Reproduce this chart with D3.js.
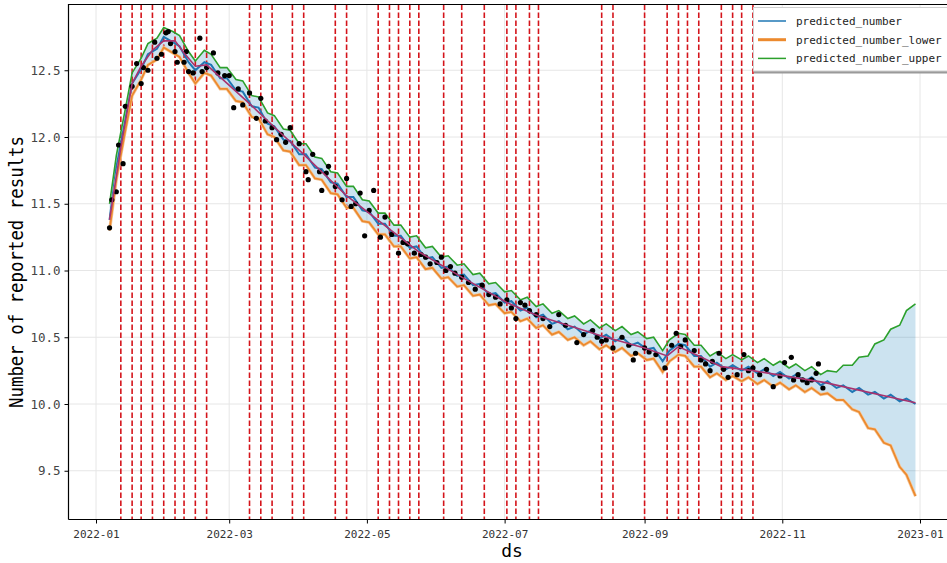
<!DOCTYPE html>
<html><head><meta charset="utf-8">
<script src="https://cdn.jsdelivr.net/npm/d3@7"></script>
<style>body{margin:0;background:#fff;}svg{display:block}</style>
</head><body>
<svg id="c" width="947" height="563"></svg>
<script>
// ---- data ----
const seriesNames = ["predicted_number", "predicted_number_lower", "predicted_number_upper"];
const xTickLabels = ["2022-01", "2022-03", "2022-05", "2022-07", "2022-09", "2022-11", "2023-01"];
const yTicks = [9.5, 10.0, 10.5, 11.0, 11.5, 12.0, 12.5];
// forecast rows: every Friday and Monday from 2022-01-07 to 2022-12-30
const forecastStart = "2022-01-07", forecastEnd = "2022-12-30";
const yhat = [11.38,11.77,12.13,12.40,12.51,12.62,12.66,12.75,12.71,12.68,12.56,12.50,12.56,12.54,12.44,12.44,12.35,12.34,12.23,12.22,
  12.10,12.08,11.98,11.97,11.87,11.87,11.77,11.76,11.66,11.65,11.55,11.55,11.45,11.44,11.35,11.35,11.26,11.26,11.17,11.18,
  11.09,11.10,11.02,11.03,10.96,10.97,10.89,10.90,10.82,10.83,10.76,10.77,10.70,10.72,10.65,10.67,10.60,10.62,10.56,10.58,
  10.52,10.55,10.49,10.52,10.47,10.50,10.44,10.46,10.41,10.42,10.32,10.40,10.45,10.44,10.36,10.36,10.28,10.31,10.26,10.29,
  10.25,10.28,10.23,10.26,10.21,10.24,10.19,10.22,10.17,10.20,10.14,10.17,10.12,10.14,10.09,10.12,10.07,10.09,10.04,10.07,
  10.02,10.04,10.00];
const upper = [11.50,11.86,12.21,12.48,12.59,12.70,12.74,12.82,12.79,12.76,12.64,12.57,12.65,12.62,12.52,12.52,12.43,12.42,12.31,12.30,
  12.18,12.16,12.06,12.05,11.95,11.95,11.85,11.84,11.74,11.73,11.63,11.63,11.53,11.52,11.43,11.43,11.34,11.34,11.25,11.26,
  11.17,11.18,11.10,11.11,11.04,11.05,10.97,10.98,10.90,10.91,10.84,10.85,10.78,10.80,10.73,10.75,10.68,10.70,10.64,10.66,
  10.60,10.63,10.57,10.60,10.55,10.58,10.52,10.54,10.49,10.50,10.40,10.48,10.53,10.52,10.44,10.44,10.36,10.39,10.34,10.37,
  10.33,10.36,10.31,10.34,10.29,10.32,10.27,10.30,10.25,10.28,10.22,10.25,10.24,10.29,10.29,10.35,10.36,10.45,10.48,10.56,
  10.59,10.70,10.75];
const lower = [11.30,11.68,12.05,12.31,12.43,12.54,12.58,12.67,12.63,12.60,12.48,12.40,12.48,12.46,12.36,12.36,12.27,12.26,12.15,12.14,
  12.02,12.00,11.90,11.89,11.79,11.79,11.69,11.68,11.58,11.57,11.47,11.47,11.37,11.36,11.27,11.27,11.18,11.18,11.09,11.10,
  11.01,11.02,10.94,10.95,10.88,10.89,10.81,10.82,10.74,10.75,10.68,10.69,10.62,10.64,10.57,10.59,10.52,10.54,10.48,10.50,
  10.44,10.47,10.41,10.44,10.39,10.42,10.36,10.38,10.33,10.34,10.24,10.32,10.37,10.36,10.28,10.28,10.20,10.23,10.18,10.21,
  10.17,10.20,10.15,10.18,10.13,10.16,10.11,10.14,10.09,10.12,10.07,10.08,10.03,10.03,9.96,9.94,9.82,9.81,9.71,9.69,
  9.53,9.47,9.31];
const trendDates = ["2022-01-07","2022-01-12","2022-01-17","2022-01-21","2022-01-26","2022-01-31","2022-02-05","2022-02-09","2022-02-14","2022-02-19",
  "2022-03-10","2022-03-20","2022-04-03","2022-04-22","2022-05-11","2022-05-24","2022-06-12","2022-07-02","2022-07-16","2022-08-13",
  "2022-09-01","2022-09-11","2022-09-16","2022-09-25","2022-10-05","2022-10-19","2022-11-20","2022-12-30"];
const trendValues = [11.38,11.92,12.40,12.53,12.65,12.72,12.72,12.63,12.53,12.54,
  12.25,12.09,11.87,11.56,11.31,11.14,10.95,10.76,10.66,10.51,
  10.42,10.36,10.43,10.36,10.28,10.25,10.16,10.01];
const changepoints = ["2022-01-12","2022-01-17","2022-01-21","2022-01-26","2022-01-31","2022-02-05","2022-02-09","2022-02-14","2022-02-19",
  "2022-03-10","2022-03-15","2022-03-20","2022-03-29","2022-04-03","2022-04-17","2022-04-22","2022-05-06","2022-05-11","2022-05-15",
  "2022-05-20","2022-05-24","2022-06-04","2022-06-12","2022-06-22","2022-07-02","2022-07-06","2022-07-12","2022-07-16","2022-08-13",
  "2022-08-18","2022-09-01","2022-09-11","2022-09-16","2022-09-20","2022-09-25","2022-10-05","2022-10-10","2022-10-14","2022-10-19"];
const actualDates = ["01-07","01-08","01-10","01-11","01-13","01-14","01-17","01-19","01-21","01-22","01-24","01-27","01-28","01-30",
  "02-01","02-02","02-03","02-05","02-06","02-09","02-10","02-11","02-13","02-16","02-17","02-19","02-22","02-24","02-27",
  "03-01","03-03","03-05","03-07","03-10","03-13","03-15","03-17","03-20","03-22","03-24","03-26","03-28",
  "04-01","04-04","04-05","04-07","04-10","04-11","04-13","04-14","04-17","04-20","04-22","04-24","04-26","04-28","04-30",
  "05-02","05-04","05-07","05-09","05-12","05-15","05-17","05-19","05-22","05-25","05-27","05-29",
  "06-01","06-03","06-05","06-07","06-09","06-12","06-15","06-18","06-21","06-24","06-27","06-29",
  "07-02","07-04","07-06","07-08","07-10","07-12","07-15","07-18","07-21","07-25","07-28",
  "08-02","08-05","08-09","08-11","08-13","08-15","08-18","08-22","08-25","08-27","08-28",
  "09-01","09-03","09-06","09-10","09-13","09-15","09-17","09-19","09-23","09-26","09-28","09-30",
  "10-01","10-04","10-06","10-08","10-12","10-15","10-17","10-19","10-22","10-25","10-28","10-31",
  "11-02","11-05","11-06","11-08","11-10","11-12","11-14","11-16","11-17","11-19"];
const actualValues = [11.32,11.53,11.59,11.94,11.80,12.23,12.38,12.55,12.40,12.52,12.50,12.71,12.59,12.62,
  12.78,12.79,12.70,12.64,12.56,12.56,12.64,12.49,12.48,12.74,12.49,12.52,12.63,12.48,12.46,
  12.46,12.22,12.36,12.24,12.33,12.14,12.29,12.12,12.07,11.98,12.02,11.96,12.07,
  11.95,11.74,11.68,11.87,11.74,11.60,11.73,11.78,11.63,11.53,11.69,11.48,11.50,11.58,11.26,
  11.45,11.60,11.25,11.40,11.27,11.13,11.21,11.20,11.13,11.12,11.10,11.05,
  11.06,11.10,11.00,11.03,10.98,10.95,10.91,10.86,10.89,10.82,10.80,10.75,
  10.78,10.72,10.64,10.76,10.74,10.70,10.67,10.64,10.58,10.67,10.59,
  10.46,10.52,10.55,10.50,10.47,10.48,10.42,10.50,10.44,10.33,10.38,
  10.42,10.39,10.37,10.27,10.44,10.53,10.43,10.48,10.40,10.33,10.30,10.25,
  10.32,10.38,10.26,10.20,10.22,10.37,10.25,10.27,10.22,10.26,10.13,10.21,
  10.31,10.35,10.18,10.22,10.18,10.16,10.18,10.23,10.30,10.12];

// ---- build ----
const parse = d3.timeParse("%Y-%m-%d");
const fStart = parse(forecastStart), fEnd = d3.timeDay.offset(parse(forecastEnd), 1);
const fDates = d3.timeFriday.range(fStart, fEnd).concat(d3.timeMonday.range(fStart, fEnd)).sort((a,b)=>a-b);
const rows = fDates.map((d,i)=>({date:d, yhat:yhat[i], lo:lower[i], hi:upper[i]}));
const trend = trendDates.map((d,i)=>({date:parse(d), v:trendValues[i]}));
const actual = actualDates.map((d,i)=>({date:parse("2022-"+d), v:actualValues[i]}));

const svg = d3.select("#c");
const L = 68.5, T = 4.5, B = 519.5, R = 960;
const x = d3.scaleTime().domain([parse("2022-01-01"), parse("2023-01-01")]).range([96, 920]);
const y = d3.scaleLinear().domain([10, 12]).range([404, 137]);
const mono = "'DejaVu Sans Mono', 'Liberation Mono', monospace";

svg.append("defs").append("clipPath").attr("id","clip").append("rect")
  .attr("x",L).attr("y",T).attr("width",R-L).attr("height",B-T);

const xTickDates = xTickLabels.map(s=>parse(s+"-01"));
// grid
const grid = svg.append("g").attr("clip-path","url(#clip)");
grid.selectAll(".gx").data(xTickDates).join("line")
  .attr("x1",d=>x(d)).attr("x2",d=>x(d)).attr("y1",T).attr("y2",B)
  .attr("stroke","#e6e6e6").attr("stroke-width",1);
grid.selectAll(".gy").data(yTicks).join("line")
  .attr("x1",L).attr("x2",R).attr("y1",d=>y(d)).attr("y2",d=>y(d))
  .attr("stroke","#e6e6e6").attr("stroke-width",1);

const plot = svg.append("g").attr("clip-path","url(#clip)");
// uncertainty band
plot.append("path").datum(rows)
  .attr("d", d3.area().x(d=>x(d.date)).y0(d=>y(d.lo)).y1(d=>y(d.hi)))
  .attr("fill","#0072B2").attr("fill-opacity",0.2);
// changepoints
plot.selectAll(".cp").data(changepoints.map(parse)).join("line")
  .attr("x1",d=>x(d)).attr("x2",d=>x(d)).attr("y1",T).attr("y2",B)
  .attr("stroke","#d4141b").attr("stroke-width",1.6).attr("stroke-dasharray","5.5,2.5");

const line = key => d3.line().x(d=>x(d.date)).y(d=>y(d[key]));
plot.append("path").datum(rows).attr("d", line("yhat"))
  .attr("fill","none").attr("stroke","#1f77b4").attr("stroke-width",2);
plot.append("path").datum(rows).attr("d", line("lo"))
  .attr("fill","none").attr("stroke","#f5c99e").attr("stroke-width",3.2);
plot.append("path").datum(rows).attr("d", line("lo"))
  .attr("fill","none").attr("stroke","#ec8a2e").attr("stroke-width",1.8);
plot.append("path").datum(rows).attr("d", line("hi"))
  .attr("fill","none").attr("stroke","#2ca02c").attr("stroke-width",1.6);
// actual observations
plot.selectAll(".pt").data(actual).join("circle")
  .attr("cx",d=>x(d.date)).attr("cy",d=>y(d.v)).attr("r",2.6).attr("fill","#000");
// trend
plot.append("path").datum(trend).attr("d", d3.line().x(d=>x(d.date)).y(d=>y(d.v)))
  .attr("fill","none").attr("stroke","#a8336e").attr("stroke-width",1.6);

// axes
const xAxis = svg.append("g").attr("transform",`translate(0,${B})`)
  .call(d3.axisBottom(x).tickValues(xTickDates).tickFormat((d,i)=>xTickLabels[i]).tickSize(4).tickSizeOuter(0));
xAxis.select(".domain").remove();
xAxis.selectAll(".tick line").attr("stroke","#000");
xAxis.selectAll(".tick text").attr("font-family",mono).attr("font-size",11).attr("fill","#333")
  .attr("dy","1em");

const yAxis = svg.append("g").attr("transform",`translate(${L},0)`)
  .call(d3.axisLeft(y).tickValues(yTicks).tickFormat(d3.format(".1f")).tickSize(4).tickSizeOuter(0));
yAxis.select(".domain").remove();
yAxis.selectAll(".tick line").attr("stroke","#000");
yAxis.selectAll(".tick text").attr("font-family",mono).attr("font-size",12.5).attr("fill","#444").attr("x",-8);

// frame
svg.append("path").attr("d",`M${L},${B}L${L},${T}L${R},${T}M${L},${B}L${R},${B}`)
  .attr("fill","none").attr("stroke","#000").attr("stroke-width",1.2);

// titles
svg.append("text").attr("x",512).attr("y",557).attr("text-anchor","middle")
  .attr("font-family",mono).attr("font-size",18).attr("fill","#000").text("ds");
svg.append("text").attr("transform","translate(23,272) rotate(-90)").attr("text-anchor","middle")
  .attr("font-family",mono).attr("font-size",19).attr("fill","#000")
  .attr("textLength",272).attr("lengthAdjust","spacingAndGlyphs")
  .text("Number of  reported results");

// legend
const lg = svg.append("g");
lg.append("rect").attr("x",754).attr("y",9.5).attr("width",200).attr("height",64).attr("fill","#9a9a9a");
lg.append("rect").attr("x",753.5).attr("y",7.5).attr("width",200).attr("height",63.5)
  .attr("fill","#fff").attr("stroke","#cfcfcf").attr("stroke-width",1);
const lgColors = ["#1f77b4","#ec8a2e","#2ca02c"], lgWidths = [1.5,3,1.5];
seriesNames.forEach((name,i)=>{
  const yy = 21 + i*18.7;
  lg.append("line").attr("x1",758).attr("x2",786).attr("y1",yy).attr("y2",yy)
    .attr("stroke",lgColors[i]).attr("stroke-width",lgWidths[i]);
  lg.append("text").attr("x",796).attr("y",yy).attr("dy","0.35em")
    .attr("font-family",mono).attr("font-size",11).attr("fill","#222").text(name);
});
</script>
</body></html>
